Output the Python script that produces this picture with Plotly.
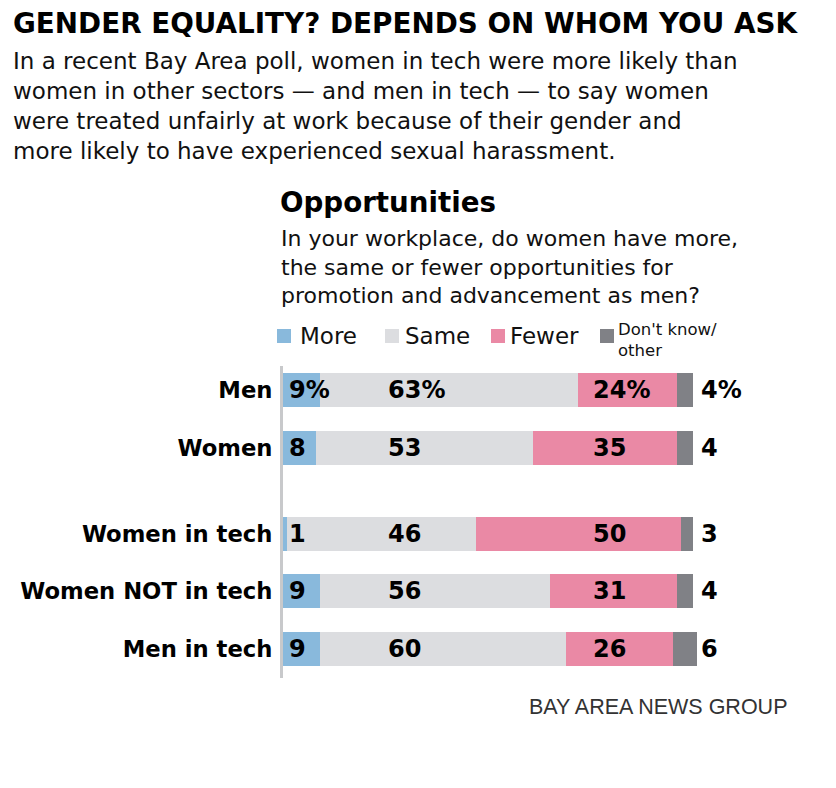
import plotly.graph_objects as go

# ---- data ----
categories = ["Men", "Women", "Women in tech", "Women NOT in tech", "Men in tech"]
groups = [0, 0, 1, 1, 1]          # visual grouping of rows
series_names = ["More", "Same", "Fewer", "Don't know/<br>other"]
more = [9, 8, 1, 9, 9]
same = [63, 53, 46, 56, 60]
fewer = [24, 35, 50, 31, 26]
dont_know = [4, 4, 3, 4, 6]

title = "GENDER EQUALITY? DEPENDS ON WHOM YOU ASK"
subtitle_lines = [
    "In a recent Bay Area poll, women in tech were more likely than",
    "women in other sectors \u2014 and men in tech \u2014 to say women",
    "were treated unfairly at work because of their gender and",
    "more likely to have experienced sexual harassment.",
]
chart_title = "Opportunities"
question_lines = [
    "In your workplace, do women have more,",
    "the same or fewer opportunities for",
    "promotion and advancement as men?",
]
source = "BAY AREA NEWS GROUP"

# ---- style ----
colors = ["#89b9dc", "#dcdde0", "#ea89a5", "#808186"]
W_FIG, H_FIG = 836, 788
OFF = 8                     # page body margin
L, T = 283 - OFF, 366 - OFF
PW, PH = 533, 312
SANS = "DejaVu Sans"
HEAVY = "DejaVu Sans"

def px_x(x):
    return (x - OFF - L) / PW

def px_y(y):
    return 1 - (y - OFF - T) / PH

# row positions: extra half-gap between groups
ypos = []
for i, g in enumerate(groups):
    ypos.append(i + 0.5 * g)

series = [more, same, fewer, dont_know]
fig = go.Figure()
for name, vals, col in zip(series_names, series, colors):
    fig.add_trace(go.Bar(
        y=ypos, x=vals, orientation="h", name=name,
        marker=dict(color=col, line=dict(width=0)),
        width=0.59, showlegend=False, hoverinfo="skip",
    ))

# value labels at fixed column positions (data units)
label_cols = [0.9, 25, 75, 101.5]
for r in range(len(categories)):
    for s, vals in enumerate(series):
        txt = str(vals[r]) + ("%" if r == 0 else "")
        fig.add_annotation(
            x=label_cols[s], y=ypos[r], xref="x", yref="y",
            text=txt, showarrow=False, xanchor="left", yanchor="middle",
            font=dict(family=HEAVY, size=24, color="#000", weight="bold"),
        )

ann = []
ann.append(dict(x=px_x(11), y=px_y(24), text=title, xanchor="left",
                font=dict(family=HEAVY, size=27.8, color="#000", weight="bold")))
ann.append(dict(x=px_x(11), y=px_y(106), text="<br>".join(subtitle_lines), xanchor="left",
                align="left", font=dict(family=SANS, size=23, color="#111")))
ann.append(dict(x=px_x(278), y=px_y(202), text=chart_title, xanchor="left",
                font=dict(family=HEAVY, size=27.7, color="#000", weight="bold")))
ann.append(dict(x=px_x(279), y=px_y(267), text="<br>".join(question_lines), xanchor="left",
                align="left", font=dict(family=SANS, size=22, color="#111")))

# legend
leg_sq_x = [277, 385, 491, 600]
leg_txt_x = [298, 403, 508, 616]
for i in range(4):
    fig.add_shape(type="rect", xref="paper", yref="paper",
                  x0=px_x(leg_sq_x[i]), x1=px_x(leg_sq_x[i] + 14),
                  y0=px_y(343), y1=px_y(329),
                  fillcolor=colors[i], line=dict(width=0))
for i in range(3):
    ann.append(dict(x=px_x(leg_txt_x[i]), y=px_y(336), text=series_names[i], xanchor="left",
                    font=dict(family=SANS, size=23, color="#111")))
ann.append(dict(x=px_x(leg_txt_x[3]), y=px_y(340), text=series_names[3], xanchor="left",
                align="left", font=dict(family=SANS, size=16.5, color="#111")))

ann.append(dict(x=px_x(789), y=px_y(707), text=source, xanchor="right",
                font=dict(family="Liberation Sans", size=21.5, color="#333")))

for a in ann:
    a.update(xref="paper", yref="paper", showarrow=False, yanchor="middle")
    fig.add_annotation(**a)

fig.update_layout(
    width=W_FIG, height=H_FIG,
    barmode="stack",
    bargap=0,
    plot_bgcolor="white", paper_bgcolor="white",
    margin=dict(l=L, r=W_FIG - L - PW, t=T, b=H_FIG - T - PH, pad=0, autoexpand=False),
    xaxis=dict(range=[0, PW / 4.1], showgrid=False, zeroline=False, automargin=False,
               showticklabels=False, showline=False, fixedrange=True),
    yaxis=dict(range=[5.01, -0.42], tickvals=ypos, ticktext=categories,
               showgrid=False, zeroline=False, showline=True, automargin=False,
               linecolor="#c8c9cb", linewidth=3, ticks="",
               ticklabelstandoff=3,
               tickfont=dict(family=HEAVY, size=22.7, color="#000", weight="bold"),
               fixedrange=True),
)

fig.write_html("out.html")
